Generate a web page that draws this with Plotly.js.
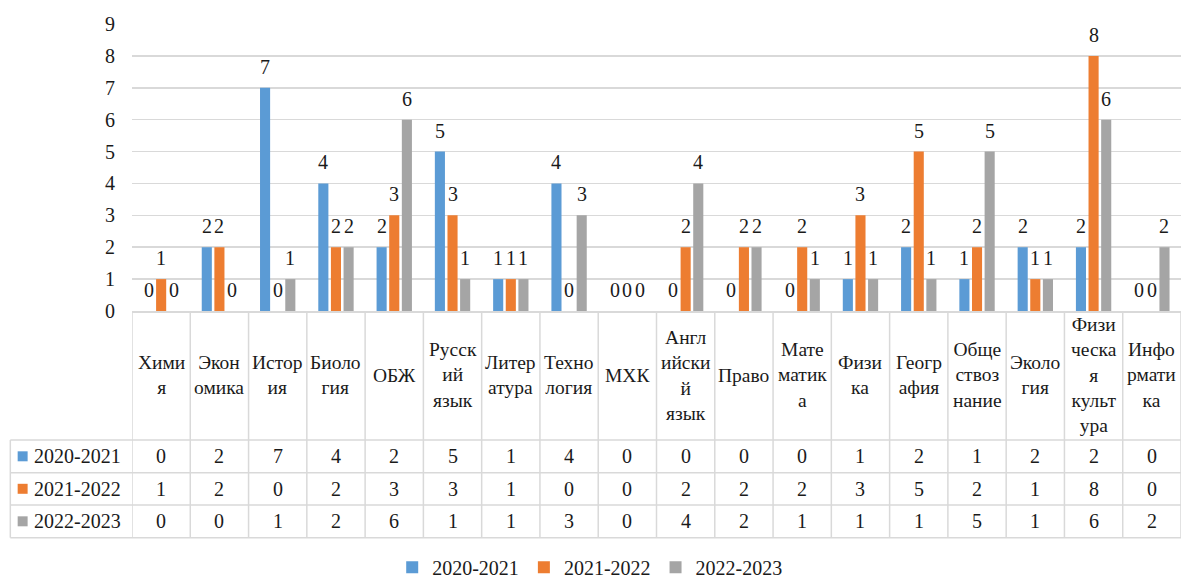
<!DOCTYPE html>
<html>
<head>
<meta charset="utf-8">
<script src="https://cdn.plot.ly/plotly-3.0.1.min.js"></script>
<style>
html,body{margin:0;padding:0;background:#fff;}
#chart{width:1181px;height:579px;}
#chart text{font-family:"Liberation Serif","Times New Roman",serif !important;}
</style>
</head>
<body>
<div id="chart"></div>
<script>
// ---- data ----
var categories = ['Химия','Экономика','История','Биология','ОБЖ','Русский язык','Литература','Технология','МХК','Английский язык','Право','Математика','Физика','География','Обществознание','Экология','Физическая культура','Информатика'];
var tickLabels = ['Хими<br>я','Экон<br>омика','Истор<br>ия','Биоло<br>гия','ОБЖ','Русск<br>ий<br>язык','Литер<br>атура','Техно<br>логия','МХК','Англ<br>ийски<br>й<br>язык','Право','Мате<br>матик<br>а','Физи<br>ка','Геогр<br>афия','Обще<br>ствоз<br>нание','Эколо<br>гия','Физи<br>ческа<br>я<br>культ<br>ура','Инфо<br>рмати<br>ка'];
var seriesNames = ['2020-2021','2021-2022','2022-2023'];
var s2020 = [0,2,7,4,2,5,1,4,0,0,0,0,1,2,1,2,2,0];
var s2021 = [1,2,0,2,3,3,1,0,0,2,2,2,3,5,2,1,8,0];
var s2022 = [0,0,1,2,6,1,1,3,0,4,2,1,1,1,5,1,6,2];
var yTicks = [0,1,2,3,4,5,6,7,8,9];

// ---- styling ----
var colors = ['#5B9BD5','#ED7D31','#A5A5A5'];
var FONT = 'Liberation Serif';
var TXT = '#1a1a1a';
var LINE = '#D9D9D9';
var series = [s2020, s2021, s2022];
var bargap = 0.35;
var slot = (1 - bargap) / 3;

var traces = series.map(function (vals, k) {
  return {
    type: 'bar', name: seriesNames[k], x: categories, y: vals,
    marker: {color: colors[k], line: {width: 0}},
    hoverinfo: 'x+y'
  };
});

var annotations = [];
var shapes = [];
series.forEach(function (vals, k) {
  vals.forEach(function (v, i) {
    annotations.push({
      x: i + (k - 1) * slot, y: v, xref: 'x', yref: 'y',
      text: String(v), showarrow: false, yanchor: 'middle', yshift: 21,
      font: {family: FONT, size: 20, color: TXT}
    });
  });
});

var headerMid = -0.2247;
var rowMid = [-0.5063, -0.6195, -0.7328];
var rowLines = [-0.4495, -0.5634, -0.6760, -0.7899];
var tableLeft = -0.116;

tickLabels.forEach(function (lab, i) {
  annotations.push({
    x: i, y: headerMid, xref: 'x', yref: 'paper', text: lab, showarrow: false,
    yanchor: 'middle', xanchor: 'center',
    font: {family: FONT, size: 19.5, color: TXT}
  });
});
series.forEach(function (vals, k) {
  vals.forEach(function (v, i) {
    annotations.push({
      x: i, y: rowMid[k], xref: 'x', yref: 'paper', text: String(v), showarrow: false,
      yanchor: 'middle', font: {family: FONT, size: 20, color: TXT}
    });
  });
  annotations.push({
    x: -0.0955, y: rowMid[k], xref: 'paper', yref: 'paper', text: seriesNames[k],
    showarrow: false, xanchor: 'left', yanchor: 'middle',
    font: {family: FONT, size: 20, color: TXT}
  });
  shapes.push({
    type: 'rect', xref: 'paper', yref: 'paper',
    x0: -0.109, x1: -0.0995, y0: rowMid[k] - 0.0174, y1: rowMid[k] + 0.0174,
    fillcolor: colors[k], line: {width: 0}
  });
});
for (var j = 0; j <= categories.length; j++) {
  shapes.push({type: 'line', xref: 'x', yref: 'paper', x0: j - 0.5, x1: j - 0.5,
    y0: 0, y1: rowLines[3], line: {color: LINE, width: 1.5}});
}
rowLines.forEach(function (yy) {
  shapes.push({type: 'line', xref: 'paper', yref: 'paper', x0: tableLeft, x1: 1,
    y0: yy, y1: yy, line: {color: LINE, width: 1.5}});
});
shapes.push({type: 'line', xref: 'paper', yref: 'paper', x0: tableLeft, x1: tableLeft,
  y0: rowLines[0], y1: rowLines[3], line: {color: LINE, width: 1.5}});

var layout = {
  width: 1181, height: 579,
  margin: {l: 132, r: 0, t: 24, b: 268, autoexpand: false},
  paper_bgcolor: '#fff', plot_bgcolor: '#fff',
  barmode: 'group', bargap: bargap, bargroupgap: 0.2,
  font: {family: FONT, size: 20, color: TXT},
  xaxis: {type: 'category', range: [-0.5, categories.length - 0.5], showticklabels: false,
    showgrid: false, showline: true, linecolor: LINE, linewidth: 1.5, ticks: '', fixedrange: true},
  yaxis: {range: [0, 9], tickvals: yTicks, showgrid: true, gridcolor: LINE, gridwidth: 1.5,
    zeroline: false, showline: false, ticks: '', ticklabelstandoff: 16,
    tickfont: {family: FONT, size: 20, color: TXT}, fixedrange: true},
  showlegend: true,
  legend: {orientation: 'h', x: 0.4368, xanchor: 'center', y: -0.893, yanchor: 'middle',
    font: {family: FONT, size: 20, color: TXT}, itemwidth: 30, traceorder: 'normal'},
  annotations: annotations,
  shapes: shapes
};

Plotly.newPlot('chart', traces, layout, {displayModeBar: false, staticPlot: true});
</script>
</body>
</html>
